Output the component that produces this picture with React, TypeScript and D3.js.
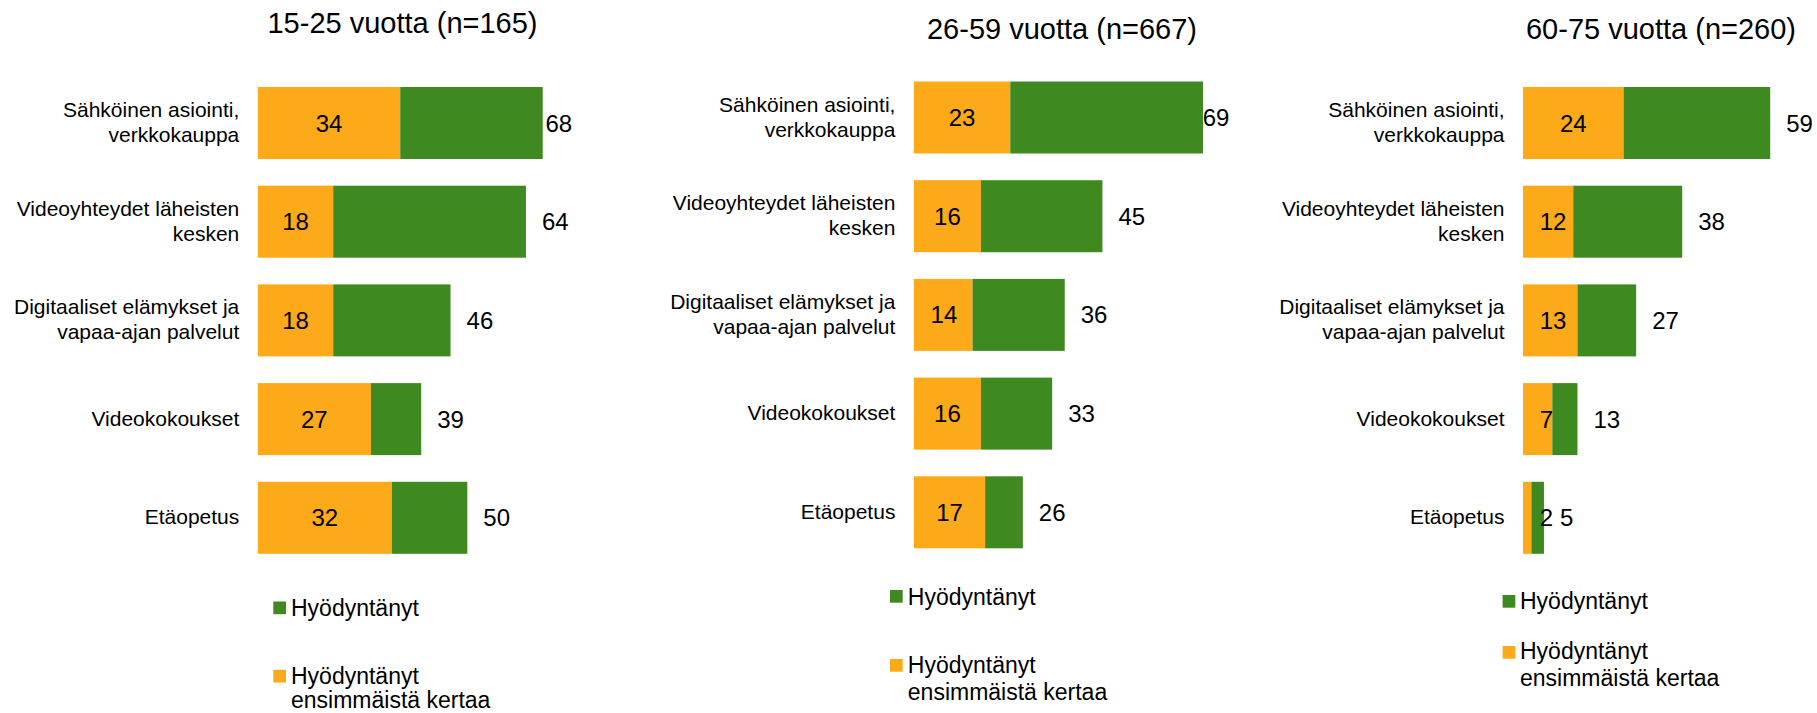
import React from "react";
import { scaleBand, scaleLinear } from "d3";

// categories (line breaks as in the original labels)
const categories = [
  "Sähköinen asiointi,\nverkkokauppa",
  "Videoyhteydet läheisten\nkesken",
  "Digitaaliset elämykset ja\nvapaa-ajan palvelut",
  "Videokokoukset",
  "Etäopetus",
];

const panelTitles = ["15-25 vuotta (n=165)", "26-59 vuotta (n=667)", "60-75 vuotta (n=260)"];

// "Hyödyntänyt ensimmäistä kertaa" (orange part) and "Hyödyntänyt" total
const firstTime15 = [34, 18, 18, 27, 32];
const total15 = [68, 64, 46, 39, 50];
const firstTime26 = [23, 16, 14, 16, 17];
const total26 = [69, 45, 36, 33, 26];
const firstTime60 = [24, 12, 13, 7, 2];
const total60 = [59, 38, 27, 13, 5];

const legendLabels = ["Hyödyntänyt", "Hyödyntänyt\nensimmäistä kertaa"];

const GREEN = "#3F8A20";
const ORANGE = "#FCA91A";
const FONT = "'Liberation Sans', Arial, sans-serif";

const WIDTH = 1817;
const HEIGHT = 713;
const PX_PER_UNIT = 4.19;
const STEP = 98.7;
const BAR_H = 72;

// layout of each small chart
const panels = [
  {
    title: panelTitles[0], first: firstTime15, total: total15,
    barLeft: 257.8, barTop: 87, titleX: 402.5, titleY: 33.3, clampX: 545.5,
    legend: { x: 273.3, y1: 601.5, y2: 669.8, tx: 291, b1: 616, b2: 684, lh: 23.5 },
  },
  {
    title: panelTitles[1], first: firstTime26, total: total26,
    barLeft: 913.9, barTop: 81.5, titleX: 1062, titleY: 39, clampX: 1202.7,
    legend: { x: 890, y1: 590, y2: 659, tx: 907.8, b1: 605, b2: 673, lh: 27 },
  },
  {
    title: panelTitles[2], first: firstTime60, total: total60,
    barLeft: 1523, barTop: 87, titleX: 1661, titleY: 39, clampX: 9999,
    legend: { x: 1502.6, y1: 595, y2: 646, tx: 1520, b1: 609, b2: 659, lh: 27 },
  },
];

const VAL_FS = 24;
const CAT_FS = 21;
const LEG_FS = 23;

const Panel = ({ p }: { p: (typeof panels)[number] }) => {
  const x = scaleLinear().domain([0, 70]).range([p.barLeft, p.barLeft + 70 * PX_PER_UNIT]);
  const pi = 1 - BAR_H / STEP;
  const po = 0.135;
  const r0 = p.barTop - po * STEP;
  const y = scaleBand<string>()
    .domain(categories)
    .range([r0, r0 + STEP * (categories.length - pi + 2 * po)])
    .paddingInner(pi)
    .paddingOuter(po);

  return (
    <g>
      <text x={p.titleX} y={p.titleY} textAnchor="middle" fontSize={29} fontFamily={FONT} fill="#000">
        {p.title}
      </text>
      {categories.map((c, i) => {
        const y0 = y(c)!;
        const cy = y0 + y.bandwidth() / 2;
        const lines = c.split("\n");
        const first = p.first[i];
        const total = p.total[i];
        const fStr = String(first);
        const w = fStr.length * 0.556 * VAL_FS;
        let fx = (x(0) + x(first)) / 2;
        let anchor = "middle";
        // small segments: label pushed right, like in the original
        if (fx - w / 2 < x(0) + 16.7) {
          fx = x(0) + 16.7;
          anchor = "start";
        }
        const tx = Math.min(x(total) + 16, p.clampX);
        return (
          <g key={c}>
            <rect x={x(0)} y={y0} width={x(first) - x(0)} height={y.bandwidth()} fill={ORANGE} />
            <rect x={x(first)} y={y0} width={x(total) - x(first)} height={y.bandwidth()} fill={GREEN} />
            {lines.map((l, j) => (
              <text
                key={j}
                x={p.barLeft - 18.5}
                y={cy + (j - (lines.length - 1) / 2) * 25 + 6.5}
                textAnchor="end"
                fontSize={CAT_FS}
                fontFamily={FONT}
                fill="#000"
              >
                {l}
              </text>
            ))}
            <text x={fx} y={cy + 0.358 * VAL_FS} textAnchor={anchor} fontSize={VAL_FS} fontFamily={FONT} fill="#000">
              {fStr}
            </text>
            <text x={tx} y={cy + 0.358 * VAL_FS} fontSize={VAL_FS} fontFamily={FONT} fill="#000">
              {total}
            </text>
          </g>
        );
      })}
      {/* legend */}
      <rect x={p.legend.x} y={p.legend.y1} width={12.7} height={12.7} fill={GREEN} />
      <text x={p.legend.tx} y={p.legend.b1} fontSize={LEG_FS} fontFamily={FONT} fill="#000">
        {legendLabels[0]}
      </text>
      <rect x={p.legend.x} y={p.legend.y2} width={12.7} height={12.7} fill={ORANGE} />
      {legendLabels[1].split("\n").map((l, j) => (
        <text key={j} x={p.legend.tx} y={p.legend.b2 + j * p.legend.lh} fontSize={LEG_FS} fontFamily={FONT} fill="#000">
          {l}
        </text>
      ))}
    </g>
  );
};

const App = () => {
  return (
    <svg
      width={WIDTH}
      height={HEIGHT}
      style={{ position: "absolute", left: 0, top: 0, background: "#fff" }}
    >
      {panels.map((p) => (
        <Panel key={p.title} p={p} />
      ))}
    </svg>
  );
};

export default App;
